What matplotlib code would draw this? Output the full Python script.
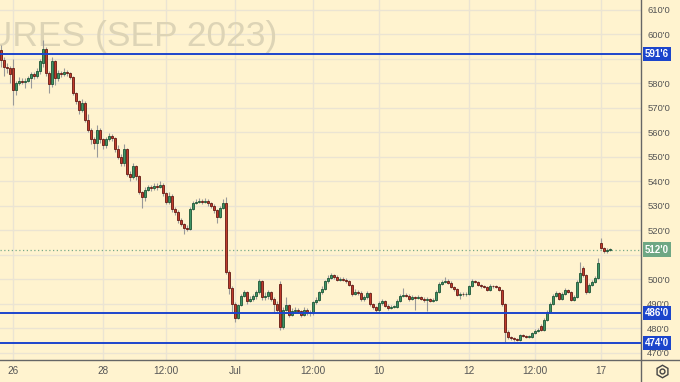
import numpy as np
import matplotlib
matplotlib.use('Agg')
import matplotlib.pyplot as plt
from matplotlib.lines import Line2D
plt.rcParams['font.family'] = ['Liberation Sans', 'DejaVu Sans']

# hourly candles, Sep 2023 futures (prices in cents)
opens = [
    593.5, 589.5, 586.5, 586.0, 586.0, 577.0, 580.0, 581.0, 580.5, 581.0,
    582.0, 583.5, 583.0, 585.0, 588.0, 594.0, 584.0, 579.5, 589.0, 582.0,
    584.0, 583.5, 584.5, 584.0, 582.5, 576.0, 572.5, 569.0, 572.0, 565.0,
    561.0, 557.0, 555.5, 561.0, 557.0, 554.5, 557.0, 558.5, 557.5, 553.0,
    550.0, 547.5, 553.0, 543.0, 541.5, 546.0, 542.0, 535.5, 533.5, 536.5,
    537.5, 537.0, 538.0, 537.5, 538.5, 535.0, 531.5, 534.0, 528.5, 527.5,
    524.0, 522.5, 521.0, 520.5, 528.5, 531.0, 531.5, 532.0, 531.5, 532.0,
    531.0, 530.0, 528.0, 525.5, 529.0, 531.0, 503.0, 496.5, 490.0, 484.0,
    489.5, 493.0, 494.5, 491.0, 492.0, 493.0, 494.5, 499.0, 492.5, 493.0,
    494.5, 492.0, 490.0, 498.0, 480.5, 487.5, 489.5, 485.5, 487.0, 487.5,
    487.0, 485.5, 487.5, 486.5, 486.0, 490.5, 491.5, 494.5, 496.0, 499.0,
    500.5, 501.5, 501.0, 499.5, 500.0, 499.75, 499.25, 497.5, 494.0, 494.75,
    494.25, 491.75, 492.75, 494.25, 489.75, 488.5, 487.25, 490.25, 491.0, 489.0,
    488.25, 488.5, 488.75, 491.0, 493.0, 493.5, 493.25, 491.75, 492.75, 492.25,
    492.75, 491.75, 491.5, 491.75, 491.0, 491.5, 494.75, 498.0, 498.75, 499.25,
    498.5, 496.75, 496.0, 493.5, 494.0, 493.75, 494.0, 497.0, 499.25, 498.75,
    497.5, 497.0, 496.75, 495.5, 497.25, 497.0, 496.75, 495.5, 489.75, 478.5,
    476.25, 476.0, 475.5, 475.25, 477.0, 476.75, 476.25, 476.25, 478.0, 478.75,
    481.0, 479.25, 483.25, 486.5, 489.75, 493.0, 494.25, 491.75, 494.0, 495.5,
    494.75, 491.5, 492.75, 498.75, 504.5, 501.5, 494.75, 497.5, 498.75, 500.5,
    514.75, 512.75, 511.5, 511.75]
closes = [
    589.5, 586.5, 586.0, 583.5, 577.0, 580.0, 581.0, 580.5, 581.0, 582.0,
    583.5, 583.0, 585.0, 589.0, 594.0, 584.0, 579.5, 589.0, 582.0, 584.0,
    583.5, 584.5, 584.0, 582.5, 576.0, 572.5, 569.0, 572.0, 565.0, 561.0,
    557.0, 555.5, 561.0, 557.0, 554.5, 557.0, 558.5, 557.5, 553.0, 550.0,
    547.5, 553.0, 543.0, 541.5, 546.0, 542.0, 535.5, 533.5, 536.5, 537.5,
    537.0, 538.0, 537.5, 538.5, 535.0, 531.5, 534.0, 528.5, 527.5, 524.0,
    522.5, 521.0, 520.5, 528.5, 531.0, 531.5, 532.0, 531.5, 532.0, 531.0,
    530.0, 528.0, 525.5, 529.0, 531.0, 503.0, 496.5, 490.0, 484.0, 489.5,
    493.0, 494.5, 491.0, 492.0, 493.0, 494.5, 499.0, 492.5, 493.0, 494.5,
    492.0, 490.0, 487.5, 480.5, 487.5, 489.5, 485.5, 487.0, 487.5, 487.0,
    485.5, 487.5, 486.5, 486.0, 490.5, 491.5, 494.5, 496.0, 499.0, 500.5,
    501.5, 501.0, 499.5, 500.0, 499.75, 499.25, 497.5, 494.0, 494.75, 494.25,
    491.75, 492.75, 494.25, 489.75, 488.5, 487.25, 490.25, 491.0, 489.0, 488.25,
    488.5, 488.75, 491.0, 493.0, 493.5, 493.25, 491.75, 492.75, 492.25, 492.75,
    491.75, 491.5, 491.75, 491.0, 491.5, 494.75, 498.0, 498.75, 499.25, 498.5,
    496.75, 496.0, 493.5, 494.0, 493.75, 494.0, 497.0, 499.25, 498.75, 497.5,
    497.0, 496.75, 495.5, 497.25, 497.0, 496.75, 495.5, 489.75, 478.5, 476.25,
    476.0, 475.5, 475.25, 477.0, 476.75, 476.25, 476.25, 478.0, 478.75, 479.25,
    479.25, 483.25, 486.5, 489.75, 493.0, 494.25, 491.75, 494.0, 495.5, 494.75,
    491.5, 492.75, 498.75, 502.5, 501.5, 494.75, 497.5, 498.75, 500.5, 506.5,
    512.75, 511.5, 511.75, 512.0]
highs = [
    595.5, 590.5, 588.0, 587.0, 590.0, 581.0, 582.5, 582.0, 582.0, 583.0,
    584.5, 584.5, 586.0, 590.0, 597.5, 594.5, 585.0, 590.5, 589.5, 585.5,
    585.0, 586.0, 585.5, 584.5, 583.0, 576.5, 573.0, 573.5, 572.5, 567.5,
    561.5, 558.0, 563.0, 561.5, 557.5, 558.0, 559.5, 559.0, 558.0, 554.5,
    551.0, 555.0, 553.5, 544.0, 547.5, 546.5, 542.5, 536.0, 537.5, 538.5,
    538.5, 539.0, 539.0, 540.0, 539.0, 535.5, 535.5, 534.5, 529.5, 528.0,
    525.0, 523.0, 522.0, 529.5, 532.0, 532.5, 533.0, 532.5, 533.0, 532.5,
    531.5, 530.5, 528.5, 530.0, 532.5, 533.5, 503.5, 497.0, 490.5, 490.0,
    494.0, 495.5, 495.0, 493.0, 494.0, 495.5, 500.0, 499.5, 494.5, 495.5,
    495.0, 492.5, 491.0, 499.0, 488.5, 492.5, 490.0, 488.0, 488.5, 488.0,
    487.5, 488.5, 488.0, 487.5, 491.0, 492.5, 495.0, 497.0, 499.5, 501.5,
    502.5, 502.0, 501.5, 501.0, 500.75, 500.25, 499.75, 498.0, 496.0, 495.5,
    495.0, 493.5, 495.0, 494.75, 490.25, 489.0, 491.0, 491.75, 491.5, 489.75,
    489.25, 489.5, 491.75, 493.75, 496.25, 494.25, 493.75, 493.5, 493.25, 493.5,
    493.25, 492.5, 492.5, 492.25, 492.25, 495.5, 498.75, 499.75, 501.0, 500.0,
    499.0, 497.25, 496.5, 494.75, 494.75, 494.75, 497.75, 500.0, 499.75, 499.25,
    498.0, 497.75, 497.25, 498.0, 497.75, 497.5, 497.25, 496.0, 490.25, 479.0,
    476.75, 476.5, 476.0, 477.75, 477.5, 477.25, 477.0, 478.5, 479.5, 480.0,
    481.75, 484.0, 487.25, 490.5, 493.75, 495.0, 494.75, 494.75, 496.25, 496.0,
    495.25, 493.5, 499.5, 507.0, 505.25, 502.0, 498.25, 499.5, 501.25, 508.5,
    516.75, 513.25, 512.5, 512.5]
lows = [
    586.5, 583.0, 584.0, 580.0, 571.0, 575.0, 579.0, 579.5, 578.0, 580.5,
    578.0, 581.5, 582.0, 583.5, 586.5, 583.0, 576.0, 578.5, 579.0, 581.0,
    582.5, 583.0, 583.0, 581.5, 575.0, 571.5, 567.5, 568.0, 564.0, 560.0,
    555.0, 553.0, 550.0, 555.5, 553.0, 553.5, 556.5, 556.5, 552.0, 549.0,
    546.0, 546.0, 542.0, 540.0, 541.0, 540.5, 534.5, 529.0, 532.0, 536.0,
    536.0, 536.5, 536.5, 537.0, 534.0, 530.5, 530.5, 527.5, 526.0, 523.0,
    521.5, 518.5, 519.5, 520.0, 528.0, 530.5, 531.0, 530.5, 531.0, 530.0,
    529.0, 527.0, 523.0, 525.0, 528.5, 502.0, 494.0, 486.5, 482.5, 483.5,
    489.0, 492.5, 490.0, 490.5, 491.0, 492.0, 494.0, 491.5, 491.5, 492.0,
    491.0, 486.0, 486.5, 479.0, 479.5, 487.0, 484.5, 485.0, 486.0, 486.0,
    484.5, 485.0, 485.5, 485.0, 485.5, 490.0, 491.0, 494.0, 495.5, 498.5,
    500.0, 500.0, 499.0, 499.0, 499.0, 498.5, 497.0, 493.0, 493.5, 493.5,
    491.0, 491.0, 492.0, 489.0, 487.75, 486.5, 486.0, 489.5, 488.5, 487.5,
    487.75, 488.0, 488.25, 490.5, 492.5, 492.75, 491.0, 491.25, 487.25, 491.75,
    491.25, 490.75, 487.0, 490.5, 490.5, 491.0, 494.25, 497.5, 498.25, 498.0,
    496.25, 495.25, 493.0, 492.0, 493.25, 493.25, 493.5, 496.75, 498.25, 497.0,
    496.5, 496.25, 495.0, 495.0, 496.5, 496.25, 495.0, 489.0, 474.25, 475.5,
    475.25, 474.75, 474.5, 474.75, 476.25, 475.75, 475.75, 475.75, 477.5, 478.25,
    478.75, 478.75, 482.75, 486.0, 489.25, 492.5, 491.25, 491.25, 493.5, 494.25,
    491.0, 491.0, 492.25, 498.25, 501.0, 493.75, 494.25, 497.0, 498.25, 500.0,
    512.25, 510.75, 510.5, 511.25]

# time axis labels (candle index where each session / hour starts)
tick_idx = [4, 34, 55, 78, 104, 126, 156, 178, 200]
tick_lbl = ['26', '28', '12:00', 'Jul', '12:00', '10', '12', '12:00', '17']
grid_prices = list(range(470, 611, 10))
# 590 and 510 sit under the price tags, so no label for them
label_prices = [v for v in grid_prices if v not in (590, 510)]

# drawn levels
levels = [591.75, 486.0, 474.0]
level_lbl = ["591'6", "486'0", "474'0"]
last_price = 512.0

bg = '#fff3cf'
grid_c = '#ebe4d3'
up_c, up_edge = '#3f9466', '#1d5535'
dn_c, dn_edge = '#c03b2c', '#641a12'
blue = '#1c45cc'

fig = plt.figure(figsize=(6.8, 3.82), dpi=100, facecolor=bg)
ax = fig.add_axes([0, 22 / 382, 641 / 680, 360 / 382])
ax.set_facecolor(bg)

o = np.array(opens)
c = np.array(closes)
h = np.array(highs)
l = np.array(lows)
x = np.arange(len(c))
up = c >= o

# grid
for v in grid_prices:
    ax.axhline(v, color=grid_c, lw=1, zorder=0)
for t in tick_idx:
    ax.axvline(t, color=grid_c, lw=1, zorder=0)

# watermark
ax.text(277 / 641, 1 - 46 / 360, 'CORN FUTURES (SEP 2023)', transform=ax.transAxes,
        ha='right', va='baseline', fontsize=25.5, color='#ddd4b6', zorder=1)

# candles
ax.vlines(x, l, h, color='#999999', lw=0.8, zorder=2)
ax.bar(x, np.maximum(np.abs(c - o), 0.3), bottom=np.minimum(o, c), width=0.8,
       color=np.where(up, up_c, dn_c), edgecolor=np.where(up, up_edge, dn_edge),
       linewidth=0.6, zorder=3)

# horizontal levels and last price line
for lv in levels:
    ax.axhline(lv, color=blue, lw=1.4, zorder=4)
ax.axhline(last_price, color='#78aa8a', lw=0.9, ls=(0, (1, 2)), zorder=1)

ax.set_xlim(-1 / 3, 640 / 3)
ax.set_ylim(466.94, 613.88)

ax.yaxis.tick_right()
ax.set_yticks(label_prices)
ax.set_yticklabels([f"{v}'0" for v in label_prices])
ax.set_xticks(tick_idx)
ax.set_xticklabels(tick_lbl)
ax.tick_params(axis='y', length=0, pad=4.5, labelsize=6.8, labelcolor='#555555')
ax.tick_params(axis='x', length=0, pad=4, labelsize=7.2, labelcolor='#555555')
for s in ax.spines.values():
    s.set_visible(False)

# price tags on the right axis
def price_tag(y, text, color):
    ax.text(1 + 4 / 641, y, text, transform=ax.get_yaxis_transform(), ha='left', va='center',
            color='white', fontsize=7, fontweight='bold', clip_on=False, zorder=10,
            bbox=dict(boxstyle='square,pad=0.22', fc=color, ec='none'))

for lv, txt in zip(levels, level_lbl):
    price_tag(lv, txt, blue)
price_tag(last_price, "512'0", '#6ea784')

# separators between panes
fig.add_artist(Line2D([641 / 680, 641 / 680], [0, 1], color='#666666', lw=1, transform=fig.transFigure))
fig.add_artist(Line2D([0, 1], [22 / 382, 22 / 382], color='#666666', lw=1, transform=fig.transFigure))

# settings icon bottom right
gx, gy = 662 / 680, 1 - 371 / 382
fig.add_artist(Line2D([gx], [gy], marker='h', ms=9, mfc='none', mec='#444444', mew=1, transform=fig.transFigure))
fig.add_artist(Line2D([gx], [gy], marker='o', ms=3.5, mfc='none', mec='#444444', mew=1, transform=fig.transFigure))

fig.savefig('out.png', dpi=100, facecolor=bg)
